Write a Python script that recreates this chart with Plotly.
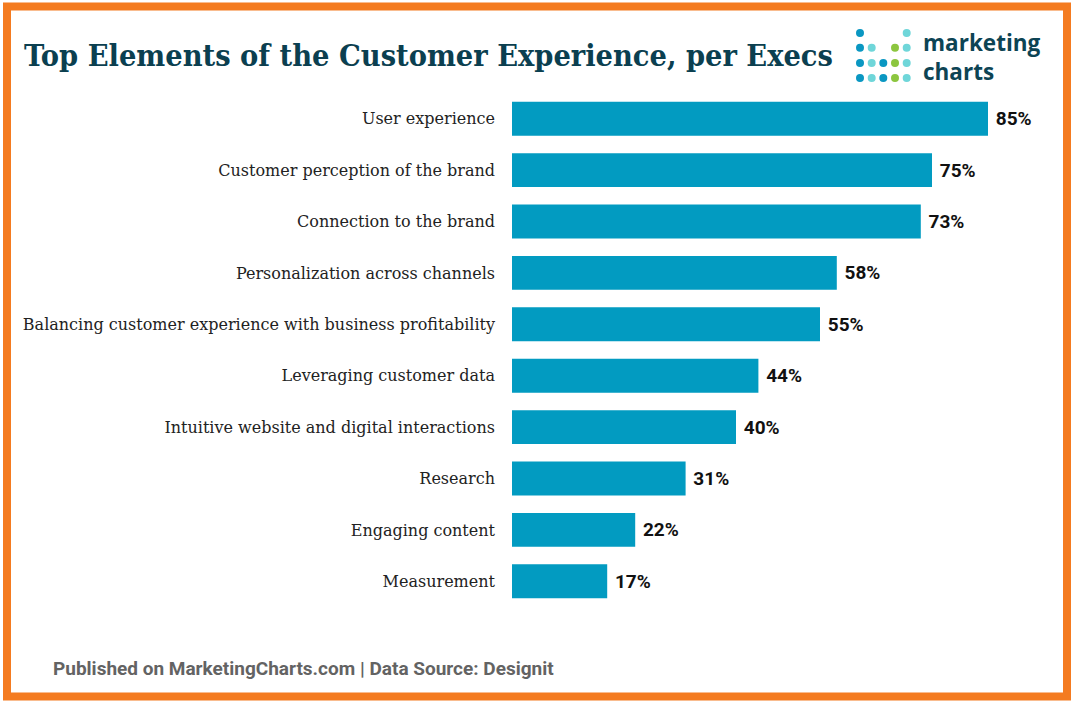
import plotly.graph_objects as go

categories = [
    "User experience",
    "Customer perception of the brand",
    "Connection to the brand",
    "Personalization across channels",
    "Balancing customer experience with business profitability",
    "Leveraging customer data",
    "Intuitive website and digital interactions",
    "Research",
    "Engaging content",
    "Measurement",
]
values = [85, 75, 73, 58, 55, 44, 40, 31, 22, 17]
value_labels = [f"{v}%" for v in values]

title_text = "Top Elements of the Customer Experience, per Execs"
footer_text = "Published on MarketingCharts.com | Data Source: Designit"
logo_text = "marketing<br>charts"

W, H = 1077, 703
L, R_EDGE = 512, 1072
T, B_EDGE = 93.3, 606.7

def px2x(px):
    return (px - L) / (R_EDGE - L)

def px2y(py):
    return (B_EDGE - py) / (B_EDGE - T)

fig = go.Figure()
fig.add_trace(go.Bar(
    x=values, y=categories, orientation="h",
    marker=dict(color="#029bc1", line=dict(width=0)),
    width=0.66,
    text=value_labels, textposition="outside", texttemplate=" %{text}",
    textfont=dict(family="Roboto, sans-serif", size=19, color="#111111", weight="bold"),
    cliponaxis=False, hoverinfo="skip",
))

shapes = []
# orange frame
shapes.append(dict(type="rect", xref="paper", yref="paper",
                   x0=px2x(7), x1=px2x(1067), y0=px2y(7), y1=px2y(696),
                   line=dict(color="#f47b20", width=8), fillcolor="rgba(0,0,0,0)", layer="above"))

# logo dots
BLUE, TEAL, GREEN = "#0a97c2", "#6fd6d9", "#8cc63f"
cols = [860, 871.7, 883.3, 895, 906.7]
rows = [33.3, 48.0, 63.3, 78.3]
dot_grid = [
    [BLUE, None, None, None, TEAL],
    [BLUE, TEAL, None, GREEN, TEAL],
    [BLUE, TEAL, BLUE, GREEN, TEAL],
    [BLUE, TEAL, BLUE, GREEN, TEAL],
]
r = 4.0
for ri, row in enumerate(dot_grid):
    for ci, c in enumerate(row):
        if c is None:
            continue
        cx, cy = cols[ci], rows[ri]
        shapes.append(dict(type="circle", xref="paper", yref="paper",
                           x0=px2x(cx - r), x1=px2x(cx + r), y0=px2y(cy + r), y1=px2y(cy - r),
                           line=dict(width=0), fillcolor=c))

annotations = [
    dict(text=title_text, xref="paper", yref="paper", x=px2x(22), y=px2y(55),
         xanchor="left", yanchor="middle", showarrow=False,
         font=dict(family="DejaVu Serif Condensed, DejaVu Serif, serif", size=30.4, color="#0b3f50", weight="bold")),
    dict(text=logo_text, xref="paper", yref="paper", x=px2x(921), y=px2y(57),
         xanchor="left", yanchor="middle", align="left", showarrow=False,
         font=dict(family="Open Sans, sans-serif", size=22.5, color="#0d4454", weight="bold")),
    dict(text=footer_text, xref="paper", yref="paper", x=px2x(51), y=px2y(668),
         xanchor="left", yanchor="middle", showarrow=False,
         font=dict(family="Roboto, sans-serif", size=19, color="#636363", weight="bold")),
]

fig.update_layout(
    width=W, height=H,
    margin=dict(l=L, r=W - R_EDGE, t=T, b=H - B_EDGE, pad=0),
    paper_bgcolor="white", plot_bgcolor="white",
    showlegend=False,
    shapes=shapes, annotations=annotations,
    xaxis=dict(range=[0, 100], visible=False, fixedrange=True),
    yaxis=dict(range=[9.5, -0.5], showgrid=False, zeroline=False, showline=False,
               ticks="", ticklabelstandoff=16,
               tickfont=dict(family="DejaVu Serif, serif", size=16, color="#222222"),
               fixedrange=True),
)

fig.write_html("out.html", config={"displayModeBar": False},
               post_script="document.body.style.margin='0';")
